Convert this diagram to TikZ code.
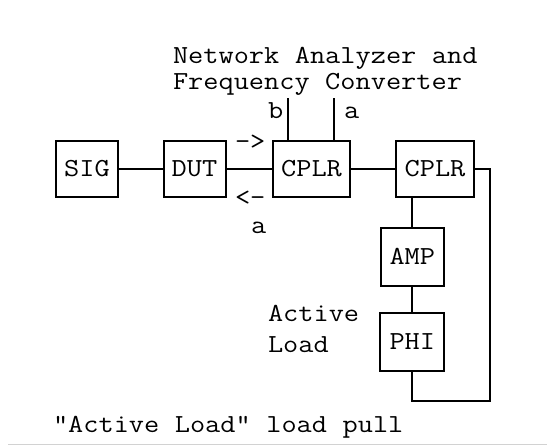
\documentclass[tikz,border=0pt]{standalone}
\usepackage{graphicx}
\usepackage{tikz}
\newcommand{\wtext}[1]{\scalebox{1.135}[1]{\spaceskip=0.525em\relax#1}}

\begin{document}
\begin{tikzpicture}[x=1pt, y=-1pt, line width=2pt,
  every node/.style={font=\ttfamily\fontsize{26}{27}\selectfont, inner sep=0pt},
  blk/.style={draw, minimum height=56pt},
  lbl/.style={anchor=base west}]
\useasboundingbox (0,0) rectangle (547,445);
\node[blk, minimum width=62pt] (sig) at (87,169) {\wtext{SIG}};
\node[blk, minimum width=62pt] (dut) at (194.5,169) {\wtext{DUT}};
\node[blk, minimum width=77pt] (cplra) at (311.5,169) {\wtext{CPLR}};
\node[blk, minimum width=78pt] (cplrb) at (435,169) {\wtext{CPLR}};
\node[blk, minimum width=63pt, minimum height=58pt] (amp) at (412.3,256.5) {\wtext{AMP}};
\node[blk, minimum width=64pt, minimum height=58pt] (phi) at (412.3,342) {\wtext{PHI}};
\node[lbl] (na1) at (172,63) {\wtext{Network Analyzer and}};
\node[lbl] (na2) at (172,89) {\wtext{Frequency Converter}};
\node[lbl] (lb) at (267,118) {\wtext{b}};
\node[lbl] (la) at (343,118) {\wtext{a}};
\node[lbl] (fwd) at (234,149) {\wtext{->}};
\node[lbl] (rev) at (234,205) {\wtext{<-}};
\node[lbl] (lab) at (250,233) {\wtext{a}};
\node[lbl] (act1) at (267,321) {\wtext{Active}};
\node[lbl] (act2) at (267,352) {\wtext{Load}};
\node[lbl] (cap) at (52,432) {\wtext{"Active Load" load pull}};
\coordinate (bline) at (288.3,98);
\coordinate (aline) at (334.3,98);
\coordinate (ret) at (490,401);
\draw (sig) -- (dut);
\draw (dut) -- (cplra);
\draw (cplra) -- (cplrb);
\draw (bline) -- (bline |- cplra.north);
\draw (aline) -- (aline |- cplra.north);
\draw (amp.north |- cplrb.south) -- (amp.north);
\draw (amp) -- (phi);
\draw (cplrb.east) -| (ret) -| (phi.south);
\draw[gray!35, line width=1pt] (8,444) -- (547,444);
\end{tikzpicture}
\end{document}
